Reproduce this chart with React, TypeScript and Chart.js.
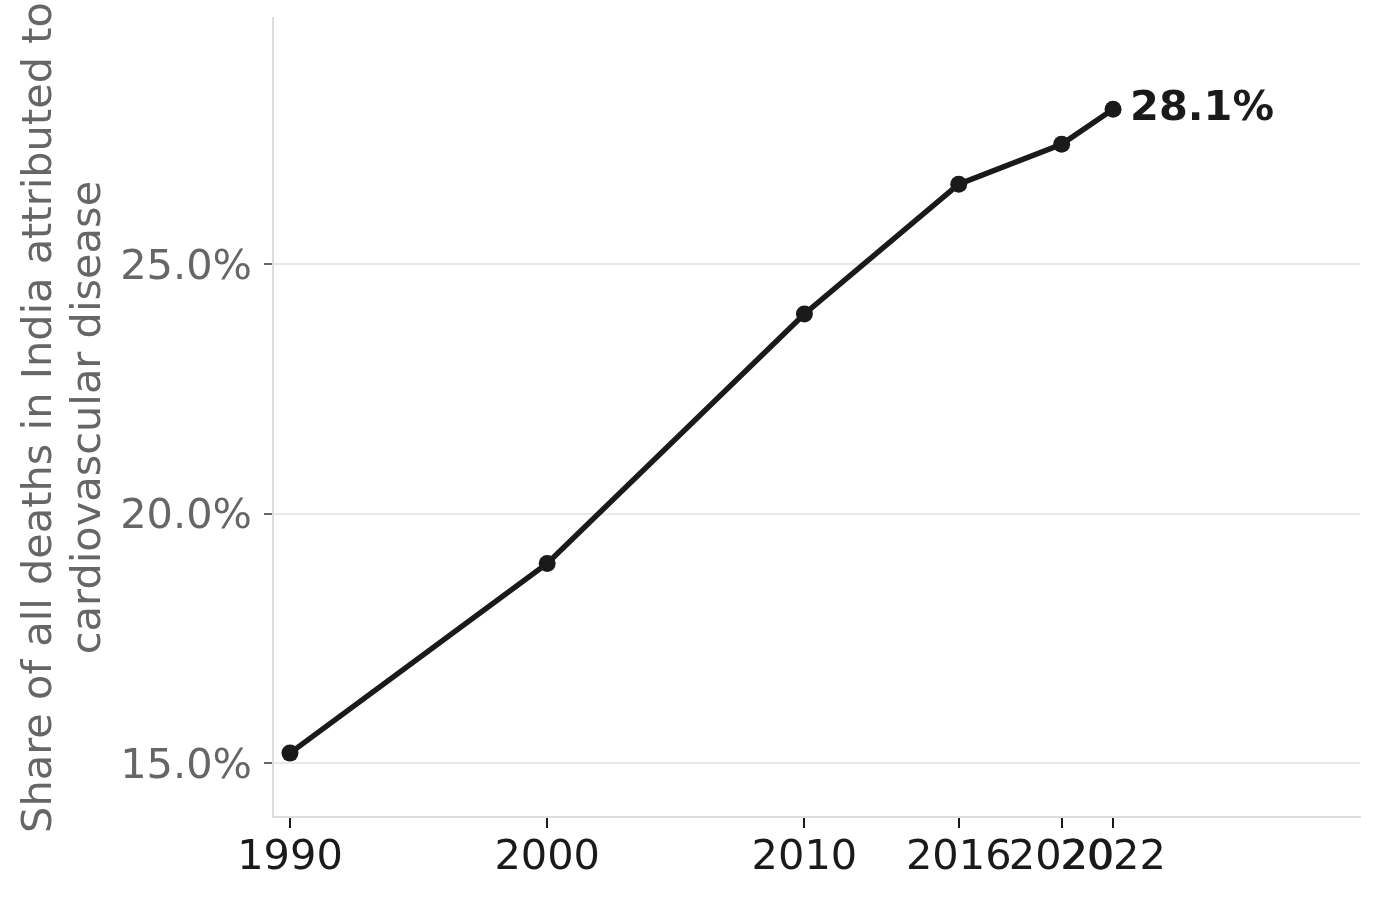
import React, { useEffect, useRef } from "react";
import { Chart, registerables, ChartConfiguration, Plugin } from "chart.js";

Chart.register(...registerables);

// Share of deaths attributed to cardiovascular disease, India
const years = [1990, 2000, 2010, 2016, 2020, 2022];
const shares = [15.2, 19.0, 24.0, 26.6, 27.4, 28.1];
const yTicks = [15, 20, 25];
const yTitle = ["Share of all deaths in India attributed to", "cardiovascular disease"];

const FONT = "'DejaVu Sans', sans-serif";
const SIZE = 41.5;
const INK = "#1a1a1a";
const MUTED = "#666666";

// writes the value next to the last point
const endLabel: Plugin<"line"> = {
  id: "endLabel",
  afterDatasetsDraw(chart) {
    const meta = chart.getDatasetMeta(0);
    const last = meta.data[meta.data.length - 1];
    if (!last) return;
    const { ctx } = chart;
    ctx.save();
    ctx.font = `bold ${SIZE}px ${FONT}`;
    ctx.fillStyle = INK;
    ctx.textAlign = "left";
    ctx.textBaseline = "middle";
    ctx.fillText(`${shares[shares.length - 1].toFixed(1)}%`, last.x + 17, last.y);
    ctx.restore();
  },
};

const App: React.FC = () => {
  const canvasRef = useRef<HTMLCanvasElement | null>(null);

  useEffect(() => {
    const canvas = canvasRef.current;
    if (!canvas) return;
    document.body.style.margin = "0";

    const config: ChartConfiguration<"line"> = {
      type: "line",
      data: {
        datasets: [
          {
            data: years.map((y, i) => ({ x: y, y: shares[i] })),
            borderColor: INK,
            borderWidth: 5.5,
            pointRadius: 8.5,
            pointBackgroundColor: INK,
            pointBorderWidth: 0,
            tension: 0,
          },
        ],
      },
      options: {
        animation: false,
        responsive: true,
        maintainAspectRatio: false,
        layout: { padding: { top: 18, right: 20, left: 0, bottom: 0 } },
        plugins: { legend: { display: false }, tooltip: { enabled: false } },
        scales: {
          x: {
            type: "linear",
            min: 1989.34,
            max: 2031.6,
            afterBuildTicks: (scale) => {
              scale.ticks = years.map((v) => ({ value: v }));
            },
            afterFit: (scale) => {
              scale.height = 82;
              scale.paddingLeft = 0;
              scale.paddingRight = 0;
            },
            border: { color: "#dddddd", width: 2 },
            grid: {
              drawOnChartArea: false,
              drawTicks: true,
              tickLength: 11,
              tickColor: INK,
              lineWidth: 2,
            },
            ticks: {
              autoSkip: false,
              maxRotation: 0,
              padding: 5,
              color: INK,
              font: { family: FONT, size: SIZE },
              callback: (v) => String(v),
            },
          },
          y: {
            type: "linear",
            min: 13.92,
            max: 29.93,
            afterBuildTicks: (scale) => {
              scale.ticks = yTicks.map((v) => ({ value: v }));
            },
            afterFit: (scale) => {
              scale.width = 273;
              scale.paddingTop = 0;
              scale.paddingBottom = 0;
            },
            border: { color: "#dddddd", width: 2 },
            grid: {
              color: "#e8e8e8",
              lineWidth: 2,
              drawTicks: true,
              tickLength: 9,
              tickColor: MUTED,
            },
            ticks: {
              padding: 12,
              labelOffset: 4,
              color: MUTED,
              font: { family: FONT, size: SIZE },
              callback: (v) => `${Number(v).toFixed(1)}%`,
            },
            title: {
              display: true,
              text: yTitle,
              color: MUTED,
              padding: { top: 15, bottom: 0 },
              font: { family: FONT, size: SIZE, lineHeight: 1.2 },
            },
          },
        },
      },
      plugins: [endLabel],
    };

    const chart = new Chart(canvas, config);
    return () => {
      chart.destroy();
    };
  }, []);

  return (
    <div style={{ position: "fixed", left: 0, top: 0, width: 1380, height: 899, background: "#ffffff" }}>
      <canvas ref={canvasRef} />
    </div>
  );
};

export default App;
